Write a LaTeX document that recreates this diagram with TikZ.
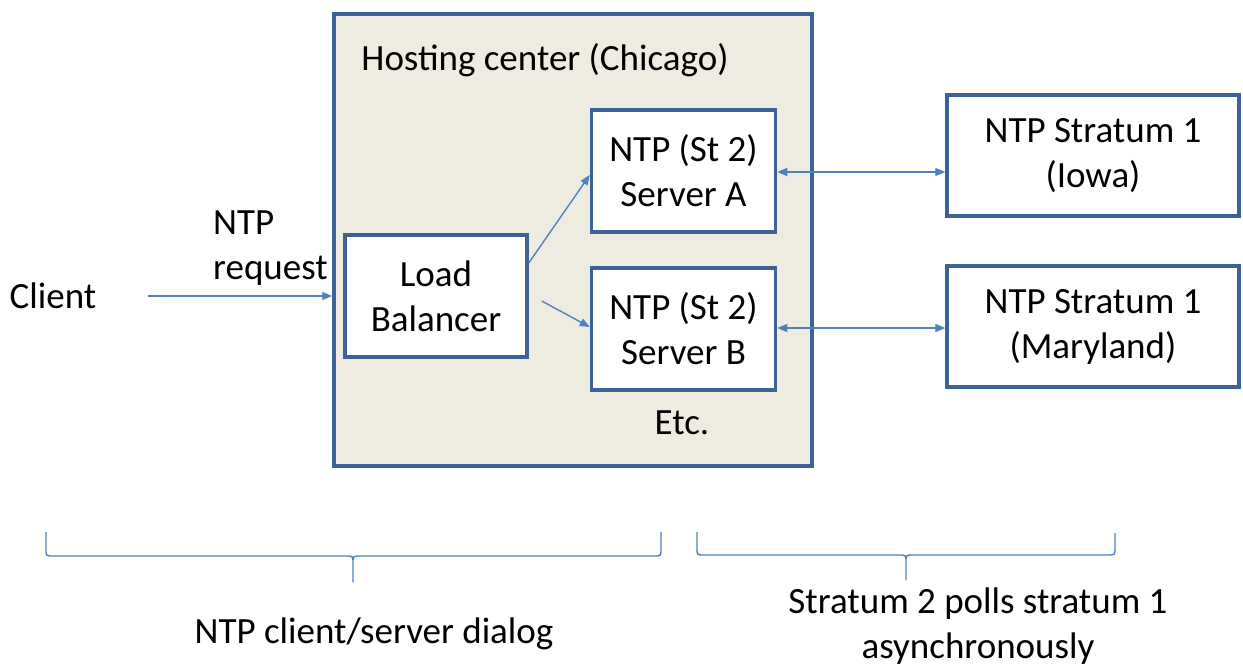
\documentclass[tikz,border=0pt]{standalone}
\usepackage{fontspec}
\setmainfont{Carlito}
\usetikzlibrary{arrows.meta,calc}
\definecolor{boxline}{RGB}{60,98,150}
\definecolor{linkblue}{RGB}{79,129,189}
\definecolor{tanfill}{RGB}{238,236,225}
% flat bracket: #1 left end, #2 right end, #3 tip x, #4 bar y, #5 tip bottom y
\newcommand\flatbracket[5]{%
  \coordinate (#1-bar) at (#1 |- 0,#4);
  \coordinate (#2-bar) at (#2 |- 0,#4);
  \coordinate (#1-tip) at (#3,#5);
  \draw[bracketline] (#1) -- ($(#1-bar)+(0,-7)$) .. controls (#1-bar) .. ($(#1-bar)+(7,0)$)
     -- (#3-7,#4) .. controls (#3,#4) .. (#3,#4+7) -- (#1-tip)
     -- (#3,#4+7) .. controls (#3,#4) .. (#3+7,#4)
     -- ($(#2-bar)+(-7,0)$) .. controls (#2-bar) .. ($(#2-bar)+(0,-7)$) -- (#2);}
\begin{document}
\begin{tikzpicture}[x=1pt,y=-1pt,
  font=\fontsize{37}{45}\selectfont,
  box/.style={draw=boxline,line width=3.5pt,fill=white,align=center,inner sep=0pt},
  link/.style={draw=linkblue,line width=1.4pt,-{Triangle[length=10pt,width=8pt]}},
  twoway/.style={link,{Triangle[length=10pt,width=8pt]}-{Triangle[length=10pt,width=8pt]}},
  bracketline/.style={draw=linkblue,line width=1.4pt,line join=round},
  label/.style={align=center,inner sep=0pt}]
\useasboundingbox (0,0) rectangle (1243,665);

% hosting centre enclosure
\node[box,fill=tanfill,minimum width=478pt,minimum height=452pt] (host) at (573,240) {};
\node[label] (hosttitle) at (545,60) {Hosting center (Chicago)};

% boxes inside the hosting centre
\node[box,minimum width=182pt,minimum height=122pt] (lb) at (436,296) {Load\\Balancer};
\node[box,minimum width=184pt,minimum height=122pt] (srvA) at (683.5,171) {NTP (St 2)\\Server A};
\node[box,minimum width=184pt,minimum height=122pt] (srvB) at (683.5,329) {NTP (St 2)\\Server B};
\node[label] (etc) at (682,423) {Etc.};

% stratum 1 servers
\node[box,minimum width=292pt,minimum height=121pt] (iowa) at (1093,155.5) {NTP Stratum 1\\(Iowa)};
\node[box,minimum width=292pt,minimum height=121pt] (md) at (1093,326.5) {NTP Stratum 1\\(Maryland)};

% client side
\node[label] (client) at (53,296) {Client};
\node[label,align=left,anchor=west] (req) at (213,248) {NTP\\request};
\coordinate (clientout) at (148,296);

% connectors
\draw[link] (clientout) -- (host.west |- clientout);
\draw[link] ([yshift=33pt]lb.east) -- ([yshift=-4pt]srvA.west);
\draw[link] ([xshift=13pt,yshift=-5pt]lb.east) -- ([yshift=2pt]srvB.west);
\draw[twoway] ([yshift=-1pt]srvA.east) -- ([yshift=-16.5pt]iowa.west);
\draw[twoway] ([yshift=1pt]srvB.east) -- ([yshift=-1.5pt]md.west);

% brackets and their captions
\coordinate (b1l) at (46,532);
\coordinate (b1r) at (661,532);
\coordinate (b2l) at (697,532);
\coordinate (b2r) at (1115,533);
\flatbracket{b1l}{b1r}{353}{556}{582}
\flatbracket{b2l}{b2r}{906}{555}{580}
\node[label] (cap1) at (374,634) {NTP client/server dialog};
\node[label] (cap2) at (978,626) {Stratum 2 polls stratum 1\\asynchronously};
\end{tikzpicture}
\end{document}
